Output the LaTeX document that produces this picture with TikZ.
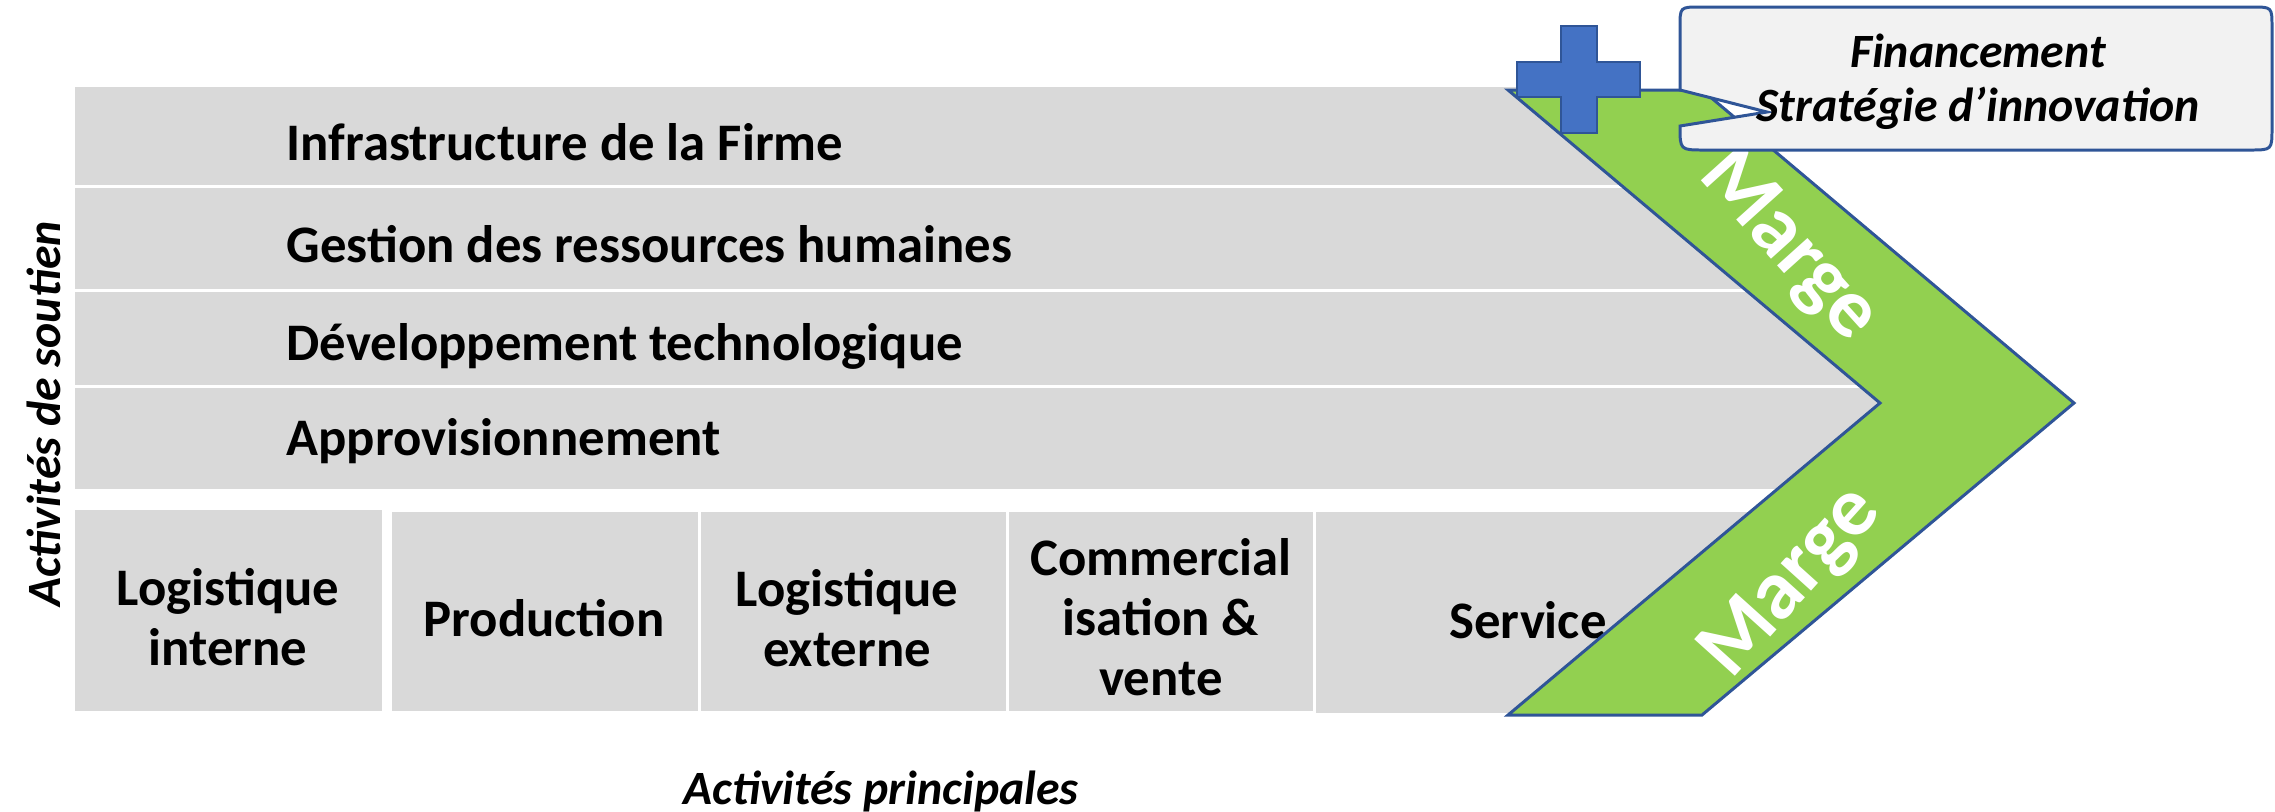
\documentclass[tikz,border=0pt]{standalone}
\usepackage{fontspec}
\setmainfont{Carlito}
\definecolor{bandgray}{HTML}{D9D9D9}
\definecolor{margegreen}{HTML}{92D050}
\definecolor{edgeblue}{HTML}{2F5597}
\definecolor{plusblue}{HTML}{4472C4}
\definecolor{callfill}{HTML}{F2F2F2}
\begin{document}
\begin{tikzpicture}[x=0.01cm,y=-0.01cm,
  band/.style={fill=bandgray,draw=none},
  lbl/.style={font=\fontsize{15}{17.1}\selectfont\bfseries,inner sep=0pt,align=center},
  axislbl/.style={font=\fontsize{13.6}{15.4}\selectfont\bfseries\itshape,inner sep=0pt,align=center},
  margelbl/.style={font=\fontsize{24}{28}\selectfont\bfseries,text=white,inner sep=0pt},
  outline/.style={draw=edgeblue,line width=0.85pt,line join=miter}]
\useasboundingbox (0,0) rectangle (2275,811);

% support activities and primary activities (clipped by chevron)
\begin{scope}
\clip (0,0) -- (1530,0) -- (1975,403) -- (1530,811) -- (0,811) -- cycle;
\fill[band] (75,87) rectangle (2200,185);
\fill[band] (75,188) rectangle (2200,289);
\fill[band] (75,292) rectangle (2200,385);
\fill[band] (75,388) rectangle (2200,489);
\fill[band] (75,510) rectangle (382,711);
\fill[band] (392,512) rectangle (698,711);
\fill[band] (701,512) rectangle (1006,711);
\fill[band] (1009,512) rectangle (1313,711);
\fill[band] (1316,512) rectangle (2200,713);
\end{scope}

\node[lbl,anchor=west] (infra) at (286,142) {Infrastructure de la Firme};
\node[lbl,anchor=west] (grh) at (286,244) {Gestion des ressources humaines};
\node[lbl,anchor=west] (dev) at (286,346) {Développement technologique};
\node[lbl,anchor=west] (appro) at (286,441) {Approvisionnement};

\node[lbl] (logint) at (228,617) {Logistique\\interne};
\node[lbl] (prod) at (544,618) {Production};
\node[lbl] (logext) at (847,618) {Logistique\\externe};
\node[lbl] (comm) at (1161,617) {Commercial\\isation \&\\vente};
\node[lbl] (serv) at (1528,620) {Service};

\node[axislbl,rotate=90] (soutien) at (44,414) {Activités de soutien};
\node[axislbl] (principales) at (881,791) {Activités principales};

% margin chevron
\path[fill=margegreen,outline] (1508,90) -- (1702,90) -- (2074,403) -- (1702,715) -- (1508,715) -- (1880,403) -- cycle;
\node[margelbl,rotate=-48] (marge1) at (1788,247) {Marge};
\node[margelbl,rotate=48] (marge2) at (1792,583) {Marge};

% plus sign
\path[fill=plusblue,draw=edgeblue,line width=0.6pt] (1561,26) -- (1597,26) -- (1597,62) -- (1640,62) -- (1640,97) -- (1597,97) -- (1597,133) -- (1561,133) -- (1561,97) -- (1517,97) -- (1517,62) -- (1561,62) -- cycle;

% callout
\path[fill=callfill,outline] (1767,112) -- (1680,90) -- (1680,27) .. controls (1680,7) .. (1700,7) -- (2252,7) .. controls (2272,7) .. (2272,27) -- (2272,128) .. controls (2272,150) .. (2250,150) -- (1704,150) .. controls (1680,150) .. (1680,126) -- cycle;
\node[axislbl] (callout) at (1978,82) {Financement\\Stratégie d’innovation};
\end{tikzpicture}
\end{document}
